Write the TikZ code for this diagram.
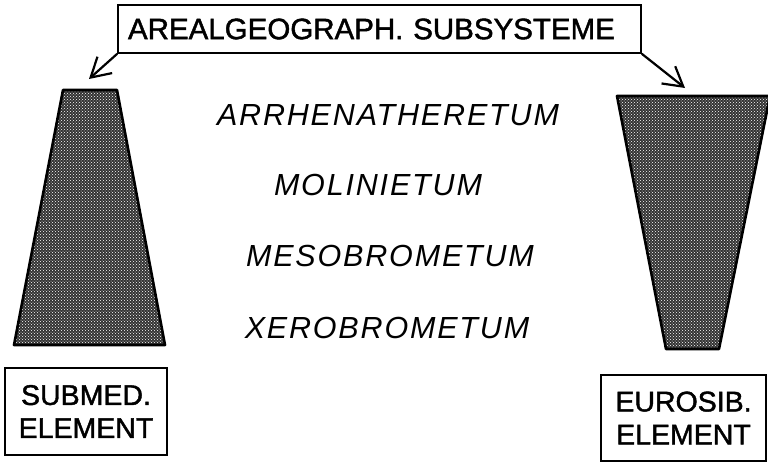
\documentclass[tikz,border=0pt]{standalone}
\usepackage{fontspec}
\setmainfont[FakeBold=1.5]{Liberation Sans}
\newfontfamily\handfont[LetterSpace=6]{Liberation Sans}
\usepackage{tikz}
\usetikzlibrary{arrows.meta,patterns}

\tikzset{
  labelbox/.style={draw, line width=1.6pt, align=center, inner sep=0pt},
  stipple/.style={preaction={fill=black!80}, pattern=crosshatch dots,
    pattern color=white, draw, line width=2.6pt, line join=round},
  pointer/.style={line width=2.2pt, -{Straight Barb[length=19pt,width=22pt]}},
  plant/.style={font=\handfont\itshape\fontsize{30.5}{34}\selectfont}
}

\begin{document}
\begin{tikzpicture}[x=1pt, y=-1pt]
\useasboundingbox (0,0) rectangle (768,464);

% Kopf
\node[labelbox, minimum width=523pt, minimum height=48pt, text width=503pt, align=left,
  font=\fontsize{29.5}{34}\selectfont]
  (sys) at (379.5,29) {AREALGEOGRAPH. SUBSYSTEME};
\coordinate (lefttip) at (89,79);
\coordinate (righttip) at (685,88);
\draw[pointer] (sys.south west) -- (lefttip);
\draw[pointer] (sys.south east) -- (righttip);

% Keile
\path[stipple] (63,90) -- (117,90) -- (165,345) -- (14,345) -- cycle;
\path[stipple] (617,96) -- (770,96) -- (719,349) -- (666,349) -- cycle;

% Gesellschaften
\node[plant] (arrh) at (388,115) {ARRHENATHERETUM};
\node[plant] (moli) at (378,185) {MOLINIETUM};
\node[plant] (meso) at (390,256) {MESOBROMETUM};
\node[plant] (xero) at (387,328) {XEROBROMETUM};

% Elemente
\node[labelbox, minimum width=162pt, minimum height=87pt, font=\fontsize{28.5}{33}\selectfont]
  (submed) at (86,411.5) {SUBMED.\\ELEMENT};
\node[labelbox, minimum width=165pt, minimum height=86pt, font=\fontsize{28.5}{33}\selectfont]
  (eurosib) at (683.5,418) {EUROSIB.\\ELEMENT};
\end{tikzpicture}
\end{document}
